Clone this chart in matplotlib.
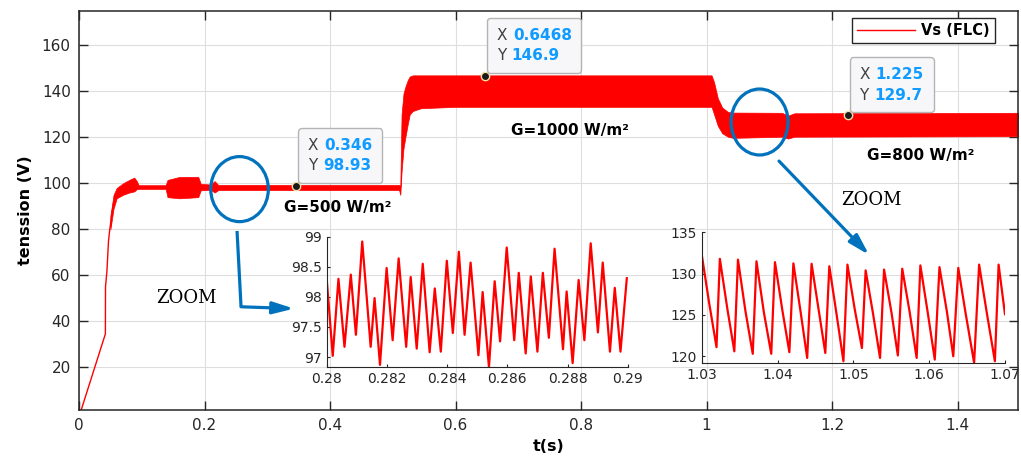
import numpy as np
import matplotlib.pyplot as plt
from matplotlib.patches import Ellipse
from matplotlib.offsetbox import TextArea, HPacker, VPacker, AnnotationBbox

# ---- data ----
# start-up ramp of Vs (single trace)
t_start = [0.003, 0.042, 0.0422, 0.0445, 0.047, 0.049, 0.052, 0.055]
v_start = [1.0, 34.5, 55.0, 62.0, 75.0, 80.0, 86.0, 91.0]

# ripple band of Vs (lower / upper envelope)
t_band = [0.050, 0.055, 0.060, 0.070, 0.080, 0.088, 0.092, 0.095, 0.138, 0.141,
          0.160, 0.190, 0.194, 0.210, 0.216, 0.222, 0.510, 0.512, 0.514, 0.517,
          0.520, 0.524, 0.527, 0.532, 0.545, 0.600, 1.000, 1.008, 1.012, 1.018,
          1.025, 1.034, 1.042, 1.120, 1.130, 1.140, 1.497]
v_low = [80, 89, 93.5, 95, 96, 96.5, 97.5, 97.6, 97.6, 94,
         93.5, 94, 97, 97.2, 96, 97.1, 97.1, 95, 105, 115,
         120, 126, 130, 131.5, 132.7, 133.3, 133.3, 133.3, 130, 125,
         121.8, 120.3, 119.8, 120.3, 119.5, 120.3, 120.5]
v_high = [86, 95, 98, 100, 101.5, 102.5, 101, 99.2, 99.2, 101.5,
          102.8, 102.8, 99.8, 99.5, 101, 99.3, 99.3, 99, 130, 139,
          142, 145, 146.5, 147, 147, 147, 147, 147, 144, 137,
          133.0, 131.1, 130.8, 130.7, 129.5, 130.5, 130.7]

# data tips
tip_x = [0.346, 0.6468, 1.225]
tip_y = [98.93, 146.9, 129.7]

# zoom 1 : 0.28 .. 0.29 s
z1_t = [0.28000, 0.28020, 0.28039, 0.28059, 0.28080, 0.28097, 0.28118, 0.28146,
        0.28159, 0.28177, 0.28199, 0.28219, 0.28239, 0.28264, 0.28279, 0.28299,
        0.28319, 0.28342, 0.28359, 0.28379, 0.28399, 0.28419, 0.28439, 0.28458,
        0.28478, 0.28504, 0.28518, 0.28539, 0.28558, 0.28576, 0.28598, 0.28623,
        0.28638, 0.28661, 0.28678, 0.28700, 0.28718, 0.28738, 0.28757, 0.28785,
        0.28797, 0.28817, 0.28837, 0.28856, 0.28877, 0.28901, 0.28917, 0.28941,
        0.28957, 0.28976, 0.28997]
z1_v = [98.29, 97.02, 98.30, 97.17, 98.37, 97.37, 98.92, 97.17,
        97.98, 96.87, 98.48, 97.28, 98.64, 97.17, 98.33, 97.14,
        98.55, 97.08, 98.14, 97.09, 98.60, 97.40, 98.75, 97.37,
        98.57, 97.03, 98.08, 96.83, 98.26, 97.26, 98.82, 97.28,
        98.40, 97.06, 98.34, 97.09, 98.40, 97.32, 98.80, 97.13,
        98.09, 96.90, 98.28, 97.28, 98.89, 97.41, 98.57, 97.09,
        98.15, 97.09, 98.31]

# zoom 2 : 1.03 .. 1.07 s
z2_t = [1.03000, 1.03097, 1.03195,
        1.03239, 1.03337, 1.03430, 1.03478, 1.03576, 1.03673,
        1.03722, 1.03820, 1.03917, 1.03966, 1.04063, 1.04156,
        1.04209, 1.04307, 1.04391, 1.04449, 1.04546, 1.04630,
        1.04683, 1.04780, 1.04869, 1.04922, 1.05020, 1.05113,
        1.05162, 1.05259, 1.05352, 1.05405, 1.05503, 1.05587,
        1.05645, 1.05742, 1.05835, 1.05884, 1.05981, 1.06074,
        1.06136, 1.06234, 1.06318, 1.06384, 1.06481, 1.06593,
        1.06659, 1.06756, 1.06867, 1.06916, 1.07000]
z2_v = [132.3, 126.5, 121.1,
        131.8, 125.8, 120.6, 131.7, 125.5, 120.3,
        131.5, 125.3, 120.3, 131.4, 125.6, 120.5,
        131.25, 125.2, 119.8, 131.2, 125.4, 120.4,
        130.9, 125.0, 119.4, 131.1, 125.6, 121.0,
        130.4, 125.2, 119.8, 130.5, 125.3, 120.1,
        130.6, 125.4, 119.8, 131.0, 125.3, 119.6,
        130.8, 125.4, 120.0, 130.7, 125.2, 119.2,
        131.1, 125.5, 119.4, 131.1, 125.1]

xticks_main = [0, 0.2, 0.4, 0.6, 0.8, 1.0, 1.2, 1.4]
xticklabels_main = ['0', '0.2', '0.4', '0.6', '0.8', '1', '1.2', '1.4']
yticks_main = [20, 40, 60, 80, 100, 120, 140, 160]

# ---- styling ----
dark = '#262626'
blue = '#0072bd'
red = '#ff0000'
plt.rcParams['font.family'] = ['DejaVu Sans']
plt.rcParams['axes.edgecolor'] = dark
plt.rcParams['xtick.color'] = dark
plt.rcParams['ytick.color'] = dark

fig = plt.figure(figsize=(10.21, 4.62), dpi=100)
ax = fig.add_axes([0.0774, 0.1126, 0.9197, 0.8636])

line, = ax.plot(t_start, v_start, color=red, lw=1.0, label='Vs (FLC)')
ax.fill_between(t_band, v_low, v_high, color=red, lw=0.5, edgecolor=red)

ax.set_xlim(0, 1.4964)
ax.set_ylim(1.4, 175)
ax.set_xticks(xticks_main)
ax.set_xticklabels(xticklabels_main)
ax.set_yticks(yticks_main)
ax.tick_params(direction='in', length=6.5, width=1, top=True, right=True,
               labelsize=11, pad=6)
ax.grid(True, color='#dedede', lw=0.8)
ax.set_axisbelow(True)
for s in ax.spines.values():
    s.set_linewidth(1.1)
ax.set_xlabel('t(s)', fontsize=11.5, fontweight='bold', labelpad=4)
ax.set_ylabel('tenssion (V)', fontsize=11.5, fontweight='bold', labelpad=6)

leg = ax.legend(handles=[line], loc='upper right', bbox_to_anchor=(0.9755, 0.982),
                borderaxespad=0, fancybox=False, framealpha=1, edgecolor=dark,
                handlelength=4.0, prop={'weight': 'bold', 'size': 10.5},
                borderpad=0.35, handletextpad=0.4)
leg.get_frame().set_linewidth(1.0)

# data tips
ax.scatter(tip_x, tip_y, s=36, color='#1a1a1a', edgecolor='#f3e2a8', lw=1.0, zorder=6)
for x, y in zip(tip_x, tip_y):
    rows = []
    for k, v in (('X', x), ('Y', y)):
        rows.append(HPacker(children=[
            TextArea(k, textprops=dict(color='#404040', fontsize=11)),
            TextArea(f'{v:.4g}', textprops=dict(color='#0f9bff', fontsize=11,
                                                  fontweight='bold'))],
            sep=4, pad=0, align='baseline'))
    box = VPacker(children=rows, sep=4, pad=0, align='left')
    ab = AnnotationBbox(box, (x, y), xycoords='data', xybox=(8.5, 9),
                        boxcoords='offset points', box_alignment=(0, 0),
                        bboxprops=dict(boxstyle='round,pad=0.7,rounding_size=0.25',
                                       facecolor='#f7f7fa', edgecolor='#b4b4b4', lw=1),
                        zorder=7)
    ax.add_artist(ab)

# irradiance labels
ax.text(0.412, 89.5, 'G=500 W/m²', fontsize=11, fontweight='bold', ha='center', va='center')
ax.text(0.7825, 123.2, 'G=1000 W/m²', fontsize=11, fontweight='bold', ha='center', va='center')
ax.text(1.341, 112.3, 'G=800 W/m²', fontsize=11, fontweight='bold', ha='center', va='center')

# zoom marks
ax.add_patch(Ellipse((0.2558, 97.5), 0.0918, 28.3, fill=False, ec=blue, lw=2.3, zorder=5))
ax.add_patch(Ellipse((1.0845, 126.7), 0.0908, 28.7, fill=False, ec=blue, lw=2.3, zorder=5))
ax.plot([0.2518, 0.2582], [79.3, 46.3], color=blue, lw=2.3, solid_capstyle='butt')
ax.annotate('', xy=(0.3426, 45.5), xytext=(0.2582, 46.3),
            arrowprops=dict(arrowstyle='-|>,head_length=0.7,head_width=0.2',
                            color=blue, lw=2.3, shrinkA=0, shrinkB=0, mutation_scale=18))
ax.annotate('', xy=(1.259, 68.9), xytext=(1.1155, 109.7),
            arrowprops=dict(arrowstyle='-|>,head_length=0.7,head_width=0.2',
                            color=blue, lw=2.3, shrinkA=0, shrinkB=0, mutation_scale=18))
ax.text(0.1717, 50.3, 'ZOOM', family='DejaVu Serif', fontsize=13, ha='center', va='center')
ax.text(1.262, 92.8, 'ZOOM', family='DejaVu Serif', fontsize=13, ha='center', va='center')


def inset(rect, t, v, xlim, ylim, xticks, yticks):
    a = fig.add_axes(rect)
    a.patch.set_alpha(0)
    a.plot(t, v, color=red, lw=1.6)
    a.set_xlim(*xlim)
    a.set_ylim(*ylim)
    a.set_xticks(xticks)
    a.set_yticks(yticks)
    for side in ('top', 'right'):
        a.spines[side].set_visible(False)
    a.tick_params(direction='in', length=2.5, labelsize=10, pad=3.5)
    return a


a1 = inset([0.3200, 0.2063, 0.2948, 0.2814], z1_t, z1_v, (0.28, 0.29), (96.84, 99.0),
           [0.28, 0.282, 0.284, 0.286, 0.288, 0.29], [97, 97.5, 98, 98.5, 99])
a1.set_xticklabels(['0.28', '0.282', '0.284', '0.286', '0.288', '0.29'])
a1.set_yticklabels(['97', '97.5', '98', '98.5', '99'])
a2 = inset([0.6873, 0.2145, 0.2970, 0.2825], z2_t, z2_v, (1.03, 1.07), (119.2, 135),
           [1.03, 1.04, 1.05, 1.06, 1.07], [120, 125, 130, 135])
a2.set_xticklabels(['1.03', '1.04', '1.05', '1.06', '1.07'])

fig.savefig('out.png', dpi=100)
